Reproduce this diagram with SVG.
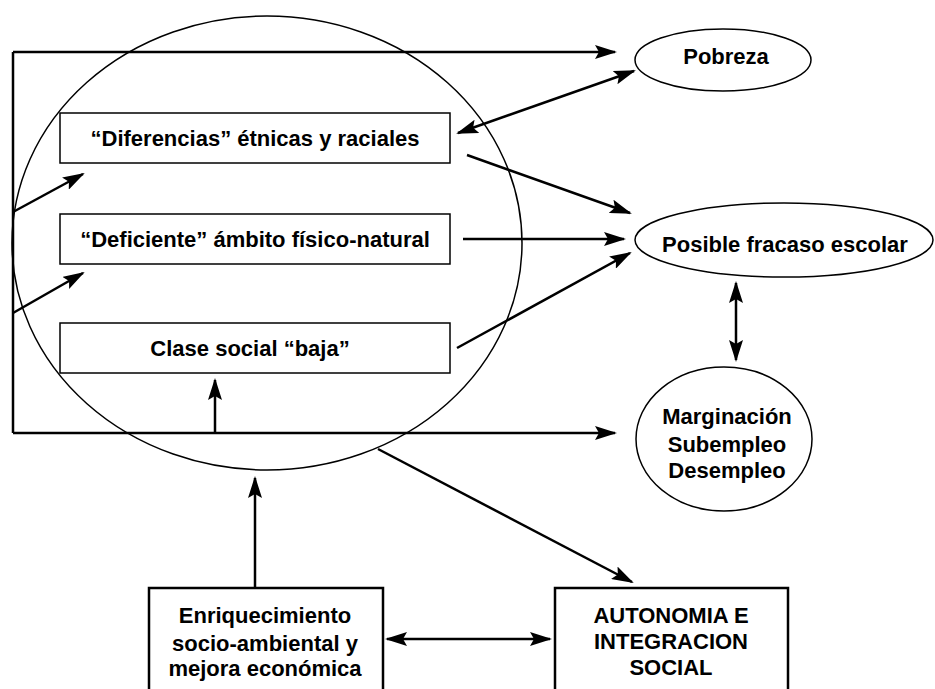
<svg xmlns="http://www.w3.org/2000/svg" width="935" height="689" viewBox="0 0 935 689">
<style>
  text { font-family: "Liberation Sans", Arial, Helvetica, sans-serif; font-weight: bold; font-size: 22px; fill: #000; text-anchor: middle; }
  .shape { fill: none; stroke: #000; stroke-width: 1.5; }
  .thick { fill: #fff; stroke: #000; stroke-width: 2.5; }
  .box { fill: #fff; stroke: #000; stroke-width: 1.5; }
  .line { fill: none; stroke: #000; stroke-width: 2.5; }
  .arr { fill: none; stroke: #000; stroke-width: 2.5; marker-end: url(#ah); }
  .dbl { fill: none; stroke: #000; stroke-width: 2.5; marker-start: url(#ah); marker-end: url(#ah); }
</style>
<defs>
  <marker id="ah" viewBox="0 0 22 14" refX="20" refY="7" markerWidth="22" markerHeight="14" markerUnits="userSpaceOnUse" orient="auto-start-reverse">
    <path d="M0,0 L22,7 L0,14 L4,7 z" fill="#000"/>
  </marker>
</defs>
<rect width="935" height="689" fill="#fff"/>

<g id="circle">
  <ellipse class="shape" cx="267" cy="243" rx="255" ry="227"/>
</g>

<g id="connectors">
  <path class="line" d="M13,52 L13,433"/>
  <path class="arr" d="M13,52 L615,52"/>
  <path class="arr" d="M13,433 L615,433"/>
  <path class="arr" d="M13,212 L83,174"/>
  <path class="arr" d="M13,313 L83,273"/>
  <path class="arr" d="M215,433 L215,380"/>
  <path class="dbl" d="M458,133 L634,71"/>
  <path class="arr" d="M467,155 L630,213"/>
  <path class="arr" d="M463,239 L624,239"/>
  <path class="arr" d="M457,348 L630,253"/>
  <path class="dbl" d="M736,283 L736,360"/>
  <path class="arr" d="M378,449 L632,582"/>
  <path class="arr" d="M255,588 L255,478"/>
  <path class="dbl" d="M387,639 L550,639"/>
</g>

<g id="diferencias">
  <rect class="box" x="60" y="113" width="390" height="50"/>
  <text x="255" y="146">“Diferencias” étnicas y raciales</text>
</g>
<g id="deficiente">
  <rect class="box" x="60" y="214" width="390" height="50"/>
  <text x="255" y="247">“Deficiente” ámbito físico-natural</text>
</g>
<g id="clase">
  <rect class="box" x="60" y="323" width="390" height="50"/>
  <text x="250" y="356">Clase social “baja”</text>
</g>

<g id="pobreza">
  <ellipse class="shape" cx="723" cy="60" rx="88" ry="31"/>
  <text x="726" y="64">Pobreza</text>
</g>
<g id="fracaso">
  <ellipse class="shape" cx="784" cy="240" rx="149" ry="37"/>
  <text x="785" y="252">Posible fracaso escolar</text>
</g>
<g id="marginacion">
  <ellipse class="shape" cx="724" cy="439" rx="88" ry="72"/>
  <text x="727" y="424">Marginación</text>
  <text x="727" y="452">Subempleo</text>
  <text x="727" y="478">Desempleo</text>
</g>

<g id="enriquecimiento">
  <rect class="thick" x="149" y="588" width="234" height="110"/>
  <text x="265" y="623">Enriquecimiento</text>
  <text x="265" y="651">socio-ambiental y</text>
  <text x="265" y="676">mejora económica</text>
</g>
<g id="autonomia">
  <rect class="thick" x="555" y="588" width="233" height="110"/>
  <text x="671" y="623">AUTONOMIA E</text>
  <text x="671" y="649">INTEGRACION</text>
  <text x="671" y="675">SOCIAL</text>
</g>
</svg>
